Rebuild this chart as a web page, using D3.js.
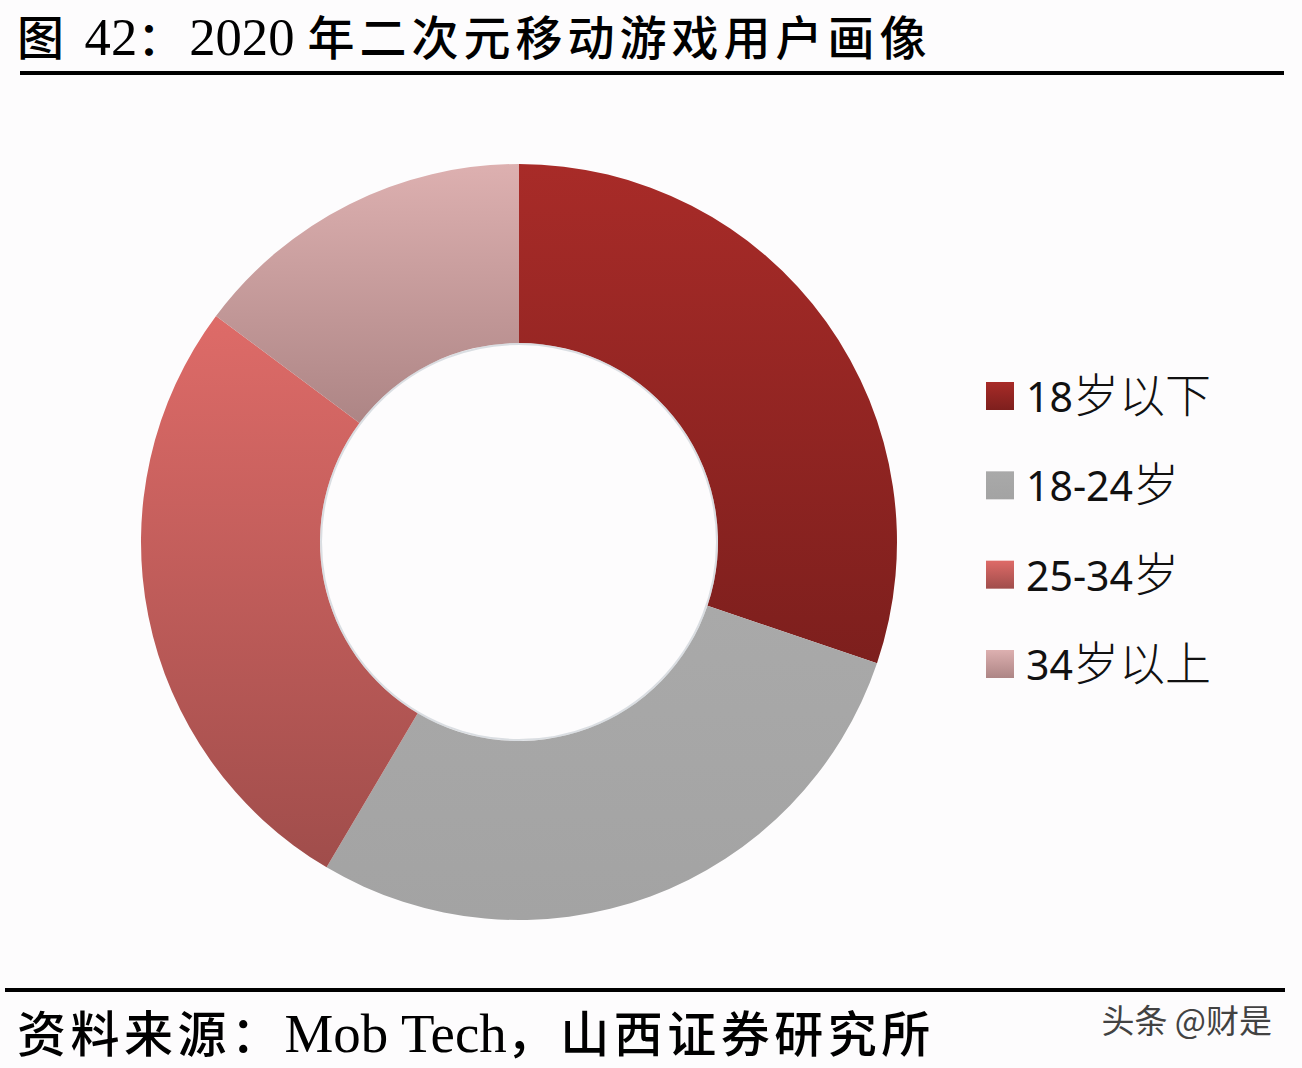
<!DOCTYPE html>
<html>
<head>
<meta charset="utf-8">
<script src="https://cdn.jsdelivr.net/npm/d3@7"></script>
<style>
  body { margin: 0; background: #fdfcfd; }
  svg { display: block; }
</style>
</head>
<body>
<div id="chart"></div>
<script>
(function(){

var width = 1302,
	height = 1068;

// data (percent of users)
var categories = ["18岁以下", "18-24岁", "25-34岁", "34岁以上"];
var shares = [30.2, 28.3, 26.7, 14.8];
// light (top) and dark (bottom) end of each slice's gradient
var topColors = ["#a82b28", "#a9a9a9", "#de6b68", "#ddb0b0"];
var bottomColors = ["#7d1f1d", "#a3a3a3", "#a04d4b", "#ad8585"];

var titleParts = [["图 ", "cjk"], ["42", "serif"], ["：", "cjk"], ["2020 ", "serif"], ["年二次元移动游戏用户画像", "cjk"]];
var sourceParts = [["资料来源：", "cjk"], ["Mob Tech", "serif"], ["，山西证券研究所", "cjk"]];

var svg = d3.select("#chart")
	.append("svg")
	.attr("width", width)
	.attr("height", height)

svg.append("rect")
	.attr("width", width)
	.attr("height", height)
	.attr("fill", "#fdfcfd")

var fonts = {
	cjk: "'Noto Sans CJK SC', sans-serif",
	serif: "'Liberation Serif', 'DejaVu Serif', serif"
}

function richText(parts, x, y, size, spacing){
	var t = svg.append("text")
		.attr("x", x)
		.attr("y", y)
		.attr("font-size", size)
		.attr("fill", "#000")
	parts.forEach(function(p){
		var cjk = p[1] == "cjk"
		t.append("tspan")
			.attr("font-family", fonts[p[1]])
			.attr("font-weight", cjk ? 500 : 400)
			.attr("font-size", cjk ? size : size * 1.12)
			.attr("letter-spacing", cjk ? spacing : 0)
			.text(p[0])
	})
	return t
}

// title and rules
richText(titleParts, 17, 55, 47, 5)
svg.append("rect").attr("x", 20).attr("y", 71).attr("width", 1264).attr("height", 4).attr("fill", "#000")
svg.append("rect").attr("x", 5).attr("y", 988).attr("width", 1280).attr("height", 4).attr("fill", "#000")
richText(sourceParts, 17, 1052, 49, 4.5)

svg.append("text")
	.attr("x", 1272)
	.attr("y", 1033)
	.attr("text-anchor", "end")
	.attr("font-family", fonts.cjk)
	.attr("font-size", 33)
	.attr("fill", "#222")
	.attr("opacity", 0.85)
	.text("头条 @财是")

// gradients
var defs = svg.append("defs")
categories.forEach(function(c, i){
	var g = defs.append("linearGradient")
		.attr("id", "grad" + i)
		.attr("x1", 0).attr("y1", 0)
		.attr("x2", 0).attr("y2", 1)
	g.append("stop").attr("offset", "0%").attr("stop-color", topColors[i])
	g.append("stop").attr("offset", "100%").attr("stop-color", bottomColors[i])
})

// donut
var cx = 519,
	cy = 542,
	outerR = 378,
	innerR = 199;

var pie = d3.pie().sort(null).value(function(d){ return d; })
var arc = d3.arc().innerRadius(innerR).outerRadius(outerR)

var g = svg.append("g")
	.attr("transform", "translate(" + cx + "," + cy + ")")

g.selectAll("path")
	.data(pie(shares))
	.enter()
	.append("path")
	.attr("d", arc)
	.attr("fill", function(d, i){ return "url(#grad" + i + ")"; })

// faint shadow on the inner edge
g.append("circle")
	.attr("r", innerR - 1)
	.attr("fill", "none")
	.attr("stroke", "#b8c0c8")
	.attr("stroke-opacity", 0.5)
	.attr("stroke-width", 2)

// legend
var legendY = d3.scalePoint()
	.domain(categories)
	.range([396, 664])

var legend = svg.selectAll(".legend")
	.data(categories)
	.enter()
	.append("g")
	.attr("class", "legend")
	.attr("transform", function(d){ return "translate(986," + legendY(d) + ")"; })

legend.append("rect")
	.attr("x", 0)
	.attr("y", -14)
	.attr("width", 28)
	.attr("height", 28)
	.attr("fill", function(d, i){ return "url(#grad" + i + ")"; })

legend.append("text")
	.attr("x", 40)
	.attr("y", 16)
	.attr("fill", "#111")
	.each(function(d){
		var t = d3.select(this)
		// split label into latin digits and CJK runs
		d.match(/[0-9\-]+|[^0-9\-]+/g).forEach(function(s){
			var latin = /^[0-9\-]+$/.test(s)
			t.append("tspan")
				.attr("font-family", latin ? "'Noto Sans', sans-serif" : fonts.cjk)
				.attr("font-weight", latin ? 400 : 300)
				.attr("font-size", latin ? 41 : 46)
				.text(s)
		})
	})

})();
</script>
</body>
</html>
